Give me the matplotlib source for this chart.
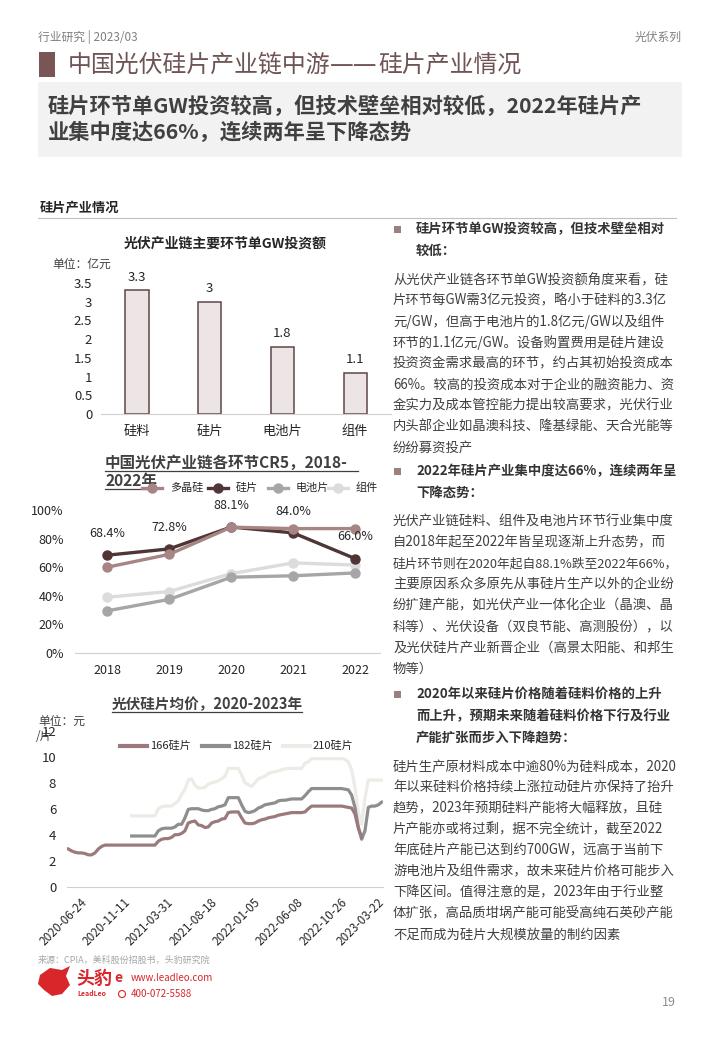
import matplotlib.pyplot as plt
from matplotlib.patches import Rectangle, Polygon, Circle

plt.rcParams['font.family'] = ['Noto Sans CJK SC', 'DejaVu Sans']
plt.rcParams['axes.unicode_minus'] = False

# ---- data ----
# 单GW投资额 (亿元)
invest_cats = ['硅料', '硅片', '电池片', '组件']
invest_vals = [3.3, 3.0, 1.8, 1.1]
invest_text = ['3.3', '3', '1.8', '1.1']

# CR5 (%)
cr5_years = ['2018', '2019', '2020', '2021', '2022']
cr5_poly = [60.0, 69.0, 88.0, 87.0, 87.0]
cr5_wafer = [68.4, 72.8, 88.1, 84.0, 66.0]
cr5_cell = [29.5, 37.5, 53.0, 54.0, 56.0]
cr5_module = [39.0, 43.0, 55.5, 63.0, 61.5]

# 硅片均价 (元/片), weekly points
price_dates = ['2020-06-24', '2020-11-11', '2021-03-31', '2021-08-18',
               '2022-01-05', '2022-06-08', '2022-10-26', '2023-03-22']
price_date_idx = [5, 18, 31, 44, 57, 70, 83, 94.3]

price_166 = [2.9, 2.75, 2.65, 2.6, 2.6, 2.55, 2.45, 2.45, 2.6, 2.9, 3.1,
             3.2, 3.2, 3.2, 3.2, 3.2, 3.2, 3.2, 3.2, 3.2, 3.2, 3.2, 3.2, 3.2, 3.2, 3.2, 3.2,
             3.5, 3.65, 3.7, 3.7, 3.8, 4.0, 4.0, 4.1, 4.3, 4.9, 5.0, 5.05,
             4.75, 4.7, 4.55, 4.6, 4.9, 5.0, 5.05, 5.2, 5.25, 5.7, 5.75, 5.75, 5.75,
             5.3, 4.9, 4.85, 4.85, 4.9, 5.05, 5.15, 5.2, 5.3, 5.35, 5.4, 5.5, 5.55,
             5.6, 5.65, 5.7, 5.7, 5.7, 5.7, 5.75,
             6.0, 6.2, 6.2, 6.2, 6.2, 6.2, 6.2, 6.2, 6.2, 6.2, 6.2,
             6.15, 6.1, 6.05, 5.6, 4.5, 3.8]
start_166 = 0

price_182 = [3.9, 3.9, 3.9, 3.9, 3.9, 3.9, 3.9, 3.9,
             4.3, 4.45, 4.5, 4.5, 4.5, 4.6, 4.8, 4.8,
             5.3, 5.95, 6.0, 6.0, 6.0, 5.9, 5.85, 5.85, 5.95, 6.0, 6.15, 6.2, 6.3,
             6.85, 6.85, 6.85, 6.85,
             6.3, 5.8, 5.7, 5.75, 5.85, 6.05, 6.15, 6.3, 6.35, 6.4, 6.45, 6.6,
             6.65, 6.65, 6.7, 6.75, 6.75, 6.75, 6.75,
             7.0, 7.3, 7.55,
             7.55, 7.55, 7.55, 7.55, 7.55, 7.55, 7.55, 7.55, 7.55,
             7.5, 7.45, 7.05, 6.1, 4.6, 3.65, 4.3, 6.1, 6.2, 6.2, 6.3, 6.5]
start_182 = 19

price_210 = [5.45, 5.45, 5.45, 5.45, 5.45, 5.45, 5.45, 5.45,
             6.0, 6.15, 6.2, 6.2, 6.2, 6.4, 6.6, 7.1,
             7.5, 8.2, 8.3, 7.8, 7.6, 7.6, 7.65, 7.9, 8.0, 8.05, 8.15, 8.3, 8.5,
             9.1, 9.1, 9.1, 9.1,
             8.6, 8.0, 7.85, 7.7, 8.0, 8.3, 8.4, 8.5, 8.7, 8.8, 8.85, 8.9, 9.0,
             9.05, 9.1, 9.1, 9.1, 9.1, 9.1,
             9.5, 9.6, 9.85,
             9.85, 9.85, 9.85, 9.85, 9.85, 9.85, 9.85, 9.85, 9.85,
             9.8, 9.6, 9.0, 7.6, 5.8, 4.8, 6.8, 8.2, 8.2, 8.2, 8.2, 8.2]
start_210 = 19

W, H = 720, 1040
fig = plt.figure(figsize=(7.2, 10.4), dpi=100)
fig.patch.set_facecolor('white')

# page layer in pixel coordinates
page = fig.add_axes([0, 0, 1, 1], zorder=0)
page.set_xlim(0, W)
page.set_ylim(H, 0)
page.axis('off')


def box(x0, y0, x1, y1):
    # pixel box -> figure fraction rect
    return [x0 / W, 1 - y1 / H, (x1 - x0) / W, (y1 - y0) / H]


dark = '#404040'
brown = '#6E5454'

# ---- header ----
page.text(38, 37, '行业研究 | 2023/03', fontsize=8.5, color='#7f7f7f', va='center')
page.text(682, 37, '光伏系列', fontsize=8.5, color='#7f7f7f', va='center', ha='right')
page.add_patch(Rectangle((39, 52), 16, 25, color='#7A5555', lw=0))
page.text(68, 65, '中国光伏硅片产业链中游', fontsize=17.2, color=brown, va='center')
page.text(330, 65, '——', fontsize=17.2, color=brown, va='center',
          family='DejaVu Sans')
page.text(378, 65, '硅片产业情况', fontsize=17.2, color=brown, va='center')
page.add_patch(Rectangle((38, 82), 644, 75, color='#F2F2F2', lw=0))
page.text(48, 106, '硅片环节单GW投资较高，但技术壁垒相对较低，2022年硅片产',
          fontsize=15.3, color=dark, va='center', fontweight='bold')
page.text(48, 132, '业集中度达66%，连续两年呈下降态势',
          fontsize=15.3, color=dark, va='center', fontweight='bold')

page.text(40, 207, '硅片产业情况', fontsize=9.5, color='#262626', va='center',
          fontweight='bold')
page.plot([38, 676], [218, 218], color='#BFBFBF', lw=0.8)

# ---- chart 1: bars ----
page.text(225, 244, '光伏产业链主要环节单GW投资额', fontsize=10, color='#262626',
          ha='center', va='center', fontweight='bold')
page.text(52, 264, '单位：亿元', fontsize=8.5, color=dark, va='center')

ax1 = fig.add_axes(box(100.6, 283, 391.5, 414), zorder=2)
ax1.set_facecolor('none')
bars = ax1.bar(range(len(invest_cats)), invest_vals, width=0.32,
               color='#EDE5E5', edgecolor='#5E4646', linewidth=1.1)
for b, t in zip(bars, invest_text):
    ax1.annotate(t, (b.get_x() + b.get_width() / 2, b.get_height()),
                 xytext=(0, 5), textcoords='offset points', ha='center',
                 va='bottom', fontsize=9.5, color='#262626')
ax1.set_xlim(-0.5, 3.5)
ax1.set_ylim(0, 3.5)
ax1.set_yticks([0, 0.5, 1, 1.5, 2, 2.5, 3, 3.5])
ax1.set_yticklabels(['0', '0.5', '1', '1.5', '2', '2.5', '3', '3.5'])
ax1.set_xticks(range(len(invest_cats)))
ax1.set_xticklabels(invest_cats)
ax1.tick_params(length=0, labelsize=9.5, colors='#262626')
ax1.tick_params(axis='y', pad=6)
ax1.tick_params(axis='x', pad=8)
for s in ['top', 'right', 'left']:
    ax1.spines[s].set_visible(False)
ax1.spines['bottom'].set_color('#D0D0D0')

# ---- chart 2: CR5 ----
page.text(105, 463, '中国光伏产业链各环节CR5，2018-', fontsize=11.2, color=dark,
          va='center', fontweight='bold')
page.text(105, 481, '2022年', fontsize=11.2, color=dark, va='center',
          fontweight='bold')
page.plot([105, 358], [471, 471], color=dark, lw=0.9)
page.plot([105, 153], [489, 489], color=dark, lw=0.9)

ax2 = fig.add_axes(box(75, 510, 380, 653), zorder=2)
ax2.set_facecolor('none')
series = [(cr5_poly, '#A88585', '多晶硅'), (cr5_wafer, '#4F3535', '硅片'),
          (cr5_cell, '#A6A6A6', '电池片'), (cr5_module, '#DCDCDC', '组件')]
for vals, c, name in series[::-1]:
    ax2.plot(range(len(cr5_years)), vals, color=c, lw=2.4, marker='o', ms=6.5,
             clip_on=False)
for i, v in enumerate(cr5_wafer):
    ax2.annotate(f'{v:.1f}%', (i, v), xytext=(0, 11), textcoords='offset points',
                 ha='center', va='bottom', fontsize=9, color='#262626')
ax2.set_xlim(-0.52, 4.4)
ax2.set_ylim(0, 100)
ax2.set_yticks(range(0, 101, 20))
ax2.set_yticklabels([f'{v}%' for v in range(0, 101, 20)])
ax2.set_xticks(range(len(cr5_years)))
ax2.set_xticklabels(cr5_years)
ax2.tick_params(length=0, labelsize=9, colors='#262626')
ax2.tick_params(axis='y', pad=8)
ax2.tick_params(axis='x', pad=8)
for s in ['top', 'right', 'left']:
    ax2.spines[s].set_visible(False)
ax2.spines['bottom'].set_color('#D0D0D0')

leg_x = [142, 208, 268, 328]
for (vals, c, name), lx in zip(series, leg_x):
    page.plot([lx, lx + 20], [488, 488], color=c, lw=2.4, zorder=3)
    page.plot([lx + 10], [488], marker='o', ms=6.5, color=c, zorder=3)
    page.text(lx + 28, 488, name, fontsize=8, color='#262626', va='center')

# ---- chart 3: price ----
page.text(207, 704, '光伏硅片均价，2020-2023年', fontsize=10.5, color=dark,
          ha='center', va='center', fontweight='bold')
page.plot([112, 302], [712, 712], color=dark, lw=0.9)
page.text(38, 721, '单位：元', fontsize=8.5, color=dark, va='center')
page.text(36, 736, '/片', fontsize=8.5, color=dark, va='center')

ax3 = fig.add_axes(box(67.3, 730.7, 383.3, 886.7), zorder=2)
ax3.set_facecolor('none')
lines3 = [(price_210, start_210, '#EEEAE6', '210硅片'),
          (price_182, start_182, '#8E8E8E', '182硅片'),
          (price_166, start_166, '#9C7A7C', '166硅片')]
for vals, st, c, name in lines3:
    ax3.plot(range(st, st + len(vals)), vals, color=c, lw=2.3,
             solid_joinstyle='round')
ax3.set_xlim(-0.3, 94.5)
ax3.set_ylim(0, 12)
ax3.set_yticks(range(0, 13, 2))
ax3.set_xticks(price_date_idx)
ax3.set_xticklabels(price_dates, rotation=45, ha='right', va='center',
                    rotation_mode='anchor')
ax3.tick_params(length=0, colors='#262626')
ax3.tick_params(axis='y', labelsize=9.5, pad=8)
ax3.tick_params(axis='x', labelsize=8.5, pad=10)
for s in ['top', 'right', 'left']:
    ax3.spines[s].set_visible(False)
ax3.spines['bottom'].set_color('#D0D0D0')

leg3_x = [120, 202, 283]
for (vals, st, c, name), lx in zip(lines3[::-1], leg3_x):
    page.plot([lx, lx + 27], [746, 746], color=c, lw=3, zorder=3)
    page.text(lx + 30, 746, name, fontsize=8, color='#262626', va='center')

# ---- right column text ----
bullet_c = '#9C8080'
sections = [
    (229, ['硅片环节单GW投资较高，但技术壁垒相对', '较低：'],
     ['从光伏产业链各环节单GW投资额角度来看，硅',
      '片环节每GW需3亿元投资，略小于硅料的3.3亿',
      '元/GW，但高于电池片的1.8亿元/GW以及组件',
      '环节的1.1亿元/GW。设备购置费用是硅片建设',
      '投资资金需求最高的环节，约占其初始投资成本',
      '66%。较高的投资成本对于企业的融资能力、资',
      '金实力及成本管控能力提出较高要求，光伏行业',
      '内头部企业如晶澳科技、隆基绿能、天合光能等',
      '纷纷募资投产']),
    (471, ['2022年硅片产业集中度达66%，连续两年呈', '下降态势：'],
     ['光伏产业链硅料、组件及电池片环节行业集中度',
      '自2018年起至2022年皆呈现逐渐上升态势，而',
      '硅片环节则在2020年起自88.1%跌至2022年66%，',
      '主要原因系众多原先从事硅片生产以外的企业纷',
      '纷扩建产能，如光伏产业一体化企业（晶澳、晶',
      '科等）、光伏设备（双良节能、高测股份），以',
      '及光伏硅片产业新晋企业（高景太阳能、和邦生',
      '物等）']),
    (694, ['2020年以来硅片价格随着硅料价格的上升',
           '而上升，预期未来随着硅料价格下行及行业',
           '产能扩张而步入下降趋势：'],
     ['硅片生产原材料成本中逾80%为硅料成本，2020',
      '年以来硅料价格持续上涨拉动硅片亦保持了抬升',
      '趋势，2023年预期硅料产能将大幅释放，且硅',
      '片产能亦或将过剩，据不完全统计，截至2022',
      '年底硅片产能已达到约700GW，远高于当前下',
      '游电池片及组件需求，故未来硅片价格可能步入',
      '下降区间。值得注意的是，2023年由于行业整',
      '体扩张，高品质坩埚产能可能受高纯石英砂产能',
      '不足而成为硅片大规模放量的制约因素']),
]
for y0, heads, body in sections:
    page.add_patch(Rectangle((394, y0 - 3.5), 7, 7, color=bullet_c, lw=0))
    for k, h in enumerate(heads):
        page.text(416, y0 + k * 22, h, fontsize=9.6, color='#333333',
                  va='center', fontweight='bold')
    by = y0 + (len(heads) - 1) * 22 + 29
    for k, ln in enumerate(body):
        fs = 9.6 if len(ln) < 26 else 9.2
        page.text(393, by + k * 20.9, ln, fontsize=fs, color=dark, va='center')

# ---- footer ----
page.text(38, 960, '来源：CPIA，美科股份招股书，头豹研究院', fontsize=6.5,
          color='#a6a6a6', va='center')
red = '#D9262B'
page.add_patch(Polygon([(40, 975), (50, 968), (62, 970), (70, 966), (66, 976),
                        (70, 985), (62, 994), (52, 996), (44, 990), (38, 984)],
                       closed=True, color=red, lw=0))
page.text(76, 978, '头豹', fontsize=13, color=red, va='center', fontweight='bold')
page.text(77, 993, 'LeadLeo', fontsize=5, color=red, va='center', style='italic',
          fontweight='bold')
page.text(114, 978, 'e', fontsize=10, color=red, va='center', style='italic',
          fontweight='bold')
page.text(131, 978, 'www.leadleo.com', fontsize=7, color=red, va='center')
page.add_patch(Circle((122, 994), 3.5, fill=False, ec=red, lw=0.8))
page.text(131, 994, '400-072-5588', fontsize=7, color=red, va='center')
page.text(676, 1002, '19', fontsize=9, color='#8c8c8c', va='center', ha='right')

fig.savefig('out.png', dpi=100, facecolor='white')
